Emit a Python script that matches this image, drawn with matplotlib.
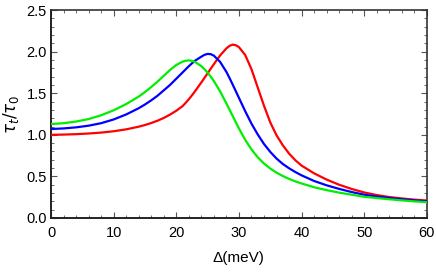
"""
Relative lifetime tau_t/tau_0 versus detuning Delta for three cases.
"""
import matplotlib
matplotlib.use("Agg")
import matplotlib.pyplot as plt
from matplotlib.ticker import MultipleLocator, FormatStrFormatter

# ── data ─────────────────────────────────────────────────────────────────────
delta = [0, 2, 4, 6, 8, 10, 12, 14, 15, 16, 17, 18, 19, 20, 21, 21.5, 22, 22.5,
         23, 24, 24.5, 25, 25.5, 26, 27, 28, 28.5, 29, 29.5, 30, 31, 32, 33, 34,
         35, 36, 37, 38, 39, 40, 42, 44, 46, 48, 50, 52, 54, 56, 58, 60]

tau_red = [1.000, 1.003, 1.008, 1.016, 1.027, 1.043, 1.066, 1.098, 1.118, 1.142,
           1.170, 1.203, 1.243, 1.290, 1.345, 1.385, 1.428, 1.475,
           1.525, 1.630, 1.685, 1.740, 1.795, 1.850, 1.955, 2.040, 2.070, 2.085,
           2.078, 2.055, 1.960, 1.790, 1.570, 1.350,
           1.150, 0.995, 0.875, 0.775, 0.695, 0.630, 0.537, 0.462, 0.400, 0.349,
           0.307, 0.276, 0.252, 0.235, 0.221, 0.210]

tau_blue = [1.070, 1.077, 1.090, 1.110, 1.140, 1.185, 1.245, 1.320, 1.365, 1.415,
            1.470, 1.535, 1.600, 1.675, 1.750, 1.788, 1.825, 1.860,
            1.892, 1.940, 1.962, 1.973, 1.970, 1.952, 1.877, 1.757, 1.683, 1.605,
            1.525, 1.445, 1.285, 1.135, 1.005, 0.890,
            0.795, 0.715, 0.650, 0.598, 0.553, 0.513, 0.445, 0.393, 0.350, 0.312,
            0.280, 0.258, 0.240, 0.225, 0.211, 0.200]

tau_green = [1.130, 1.140, 1.160, 1.190, 1.235, 1.295, 1.370, 1.460, 1.515, 1.575,
             1.640, 1.710, 1.780, 1.840, 1.880, 1.891, 1.895, 1.890,
             1.876, 1.826, 1.790, 1.748, 1.700, 1.647, 1.522, 1.377, 1.302, 1.227,
             1.152, 1.077, 0.940, 0.825, 0.730, 0.655,
             0.595, 0.545, 0.505, 0.470, 0.440, 0.415, 0.370, 0.335, 0.305, 0.280,
             0.255, 0.240, 0.225, 0.212, 0.200, 0.190]

# ── figure ───────────────────────────────────────────────────────────────────
plt.rcParams["font.family"] = ["Liberation Sans", "DejaVu Sans"]
plt.rcParams["mathtext.fontset"] = "dejavusans"

fig = plt.figure(figsize=(4.36, 2.73), dpi=100)
ax = fig.add_axes([0.117, 0.2015, 0.862, 0.7615])

ax.plot(delta, tau_red, color="#ff0000", lw=1.6, zorder=3)
ax.plot(delta, tau_blue, color="#0000ff", lw=1.6, zorder=4)
ax.plot(delta, tau_green, color="#00ee00", lw=1.6, zorder=5)

ax.set_xlim(0, 60)
ax.set_ylim(0, 2.5)
ax.xaxis.set_major_locator(MultipleLocator(10))
ax.xaxis.set_minor_locator(MultipleLocator(2))
ax.yaxis.set_major_locator(MultipleLocator(0.5))
ax.yaxis.set_minor_locator(MultipleLocator(0.1))
ax.yaxis.set_major_formatter(FormatStrFormatter("%.1f"))

ax.tick_params(which="both", direction="in", top=True, right=True,
               color="#555555", labelsize=10.5)
ax.tick_params(which="major", length=4, width=0.8)
ax.tick_params(which="minor", length=2.2, width=0.6)
ax.tick_params(axis="x", pad=6)
ax.tick_params(axis="y", pad=3)

for side in ["left", "bottom"]:
    ax.spines[side].set_linewidth(1.4)
    ax.spines[side].set_color("#222222")
for side in ["top", "right"]:
    ax.spines[side].set_linewidth(1.2)
    ax.spines[side].set_color("#333333")

ax.set_xlabel("Δ(meV)", fontsize=11, labelpad=8)
ax.set_ylabel(r"$\tau_t/\tau_0$", fontsize=12, labelpad=4)

fig.savefig("out.png", dpi=100, facecolor="white")
